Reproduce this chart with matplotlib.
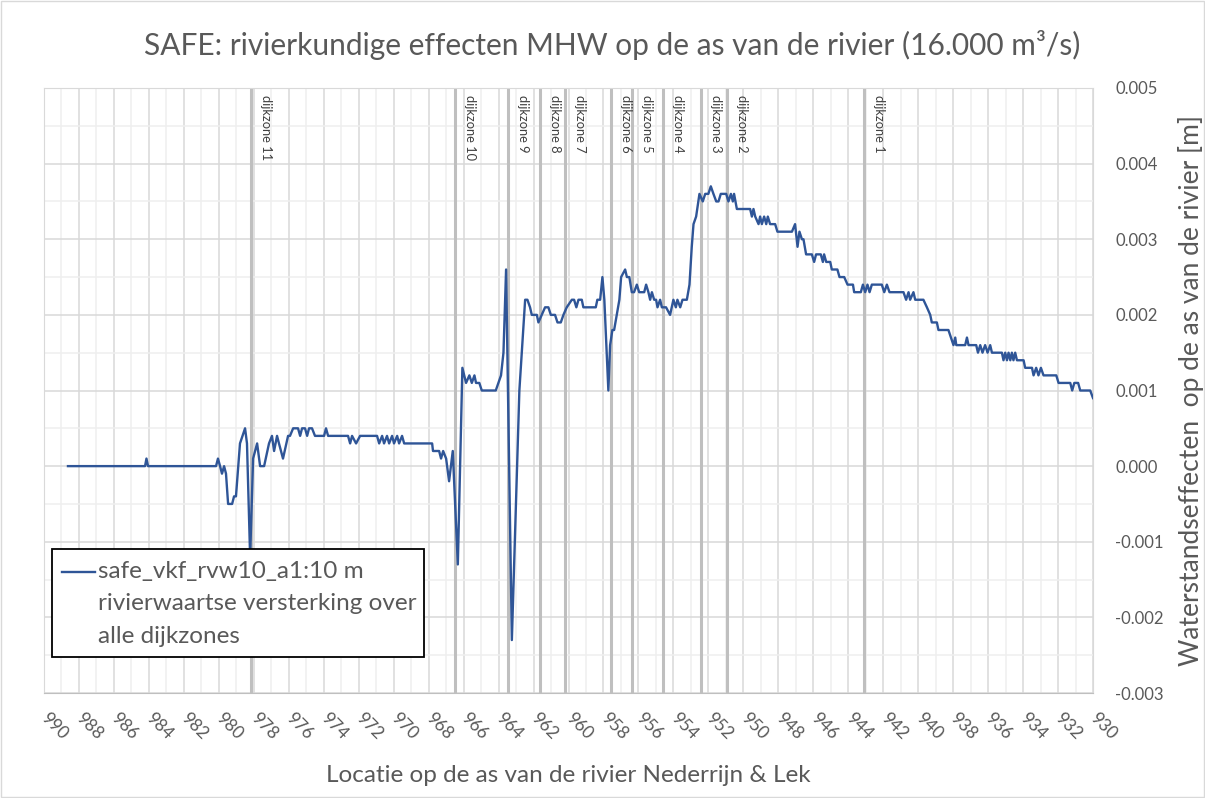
import matplotlib
matplotlib.use("Agg")
import matplotlib.pyplot as plt
from matplotlib.ticker import MultipleLocator, FormatStrFormatter
from matplotlib.patches import Rectangle

plt.rcParams['font.family'] = ['Lato', 'DejaVu Sans']

# rivierkilometer (x) en waterstandseffect [m] (y)
km = [988.63, 984.22, 984.14, 984.05, 980.16, 980.05, 979.93, 979.82, 979.70, 979.59,
      979.47, 979.24, 979.13, 979.02, 978.79, 978.50, 978.39, 978.21, 978.04, 977.81,
      977.64, 977.41, 977.13, 976.96, 976.84, 976.67, 976.56, 976.33, 976.04, 975.93,
      975.75, 975.47, 975.35, 975.24, 975.07, 974.95, 974.84, 974.67, 974.50, 973.98,
      973.87, 973.75, 972.61, 972.49, 972.38, 972.15, 971.92, 970.95, 970.83, 970.66,
      970.55, 970.38, 970.26, 970.09, 969.98, 969.80, 969.69, 969.52, 969.40, 967.80,
      967.75, 967.40, 967.29, 967.17, 967.00, 966.83, 966.62, 966.33, 966.07, 965.86,
      965.67, 965.53, 965.38, 965.29, 965.10, 964.96, 964.16, 964.01, 963.86, 963.72,
      963.57, 963.24, 962.81, 962.48, 962.35, 962.20, 962.10, 961.81, 961.72, 961.53,
      961.34, 961.15, 961.01, 960.77, 960.63, 960.44, 960.29, 960.10, 959.81, 959.68,
      959.55, 959.43, 959.24, 959.15, 958.44, 958.35, 958.19, 958.06, 957.95, 957.72,
      957.62, 957.49, 957.39, 957.09, 956.99, 956.76, 956.66, 956.52, 956.38, 956.25,
      956.09, 955.96, 955.67, 955.56, 955.43, 955.33, 955.23, 955.10, 954.99, 954.91,
      954.76, 954.66, 954.42, 954.19, 954.00, 953.86, 953.77, 953.61, 953.48, 953.23,
      953.08, 952.95, 952.85, 952.70, 952.51, 952.32, 952.18, 952.00, 951.86, 951.71,
      951.55, 951.42, 951.29, 950.98, 950.85, 950.71, 950.60, 950.53, 950.37, 949.61,
      949.51, 949.42, 949.32, 949.13, 949.04, 948.94, 948.81, 948.69, 948.60, 948.47,
      948.18, 948.05, 947.22, 947.04, 946.90, 946.79, 946.65, 946.56, 946.41, 946.08,
      945.95, 945.84, 945.57, 945.45, 945.38, 945.26, 945.03, 944.94, 944.62, 944.50,
      944.23, 944.04, 943.73, 943.66, 943.28, 943.16, 943.03, 942.90, 942.78, 942.65,
      942.08, 941.94, 941.79, 941.64, 940.84, 940.69, 940.55, 940.46, 940.27, 940.17,
      939.98, 939.70, 939.50, 939.31, 939.22, 938.93, 938.84, 938.27, 937.98, 937.88,
      937.82, 937.31, 937.21, 937.12, 936.68, 936.58, 936.45, 936.32, 936.17, 936.03,
      935.88, 935.78, 935.21, 935.12, 935.02, 934.92, 934.83, 934.73, 934.64, 934.55,
      934.45, 934.35, 933.97, 933.88, 933.49, 933.40, 933.25, 933.12, 932.98, 932.83,
      932.10, 931.97, 931.76, 931.30, 931.19, 931.07, 930.85, 930.73, 930.16, 930.00]
effect = [0.0000, 0.0000, 0.0001, 0.0000, 0.0000, 0.0001, 0.0000, -0.0001, 0.0000, -0.0001,
          -0.0005, -0.0005, -0.0004, -0.0004, 0.0003, 0.0005, 0.0003, -0.0012, 0.0001, 0.0003,
          0.0000, 0.0000, 0.0003, 0.0004, 0.0002, 0.0004, 0.0003, 0.0001, 0.0004, 0.0004,
          0.0005, 0.0005, 0.0004, 0.0005, 0.0005, 0.0004, 0.0005, 0.0005, 0.0004, 0.0004,
          0.0005, 0.0004, 0.0004, 0.0003, 0.0004, 0.0003, 0.0004, 0.0004, 0.0003, 0.0004,
          0.0003, 0.0004, 0.0003, 0.0004, 0.0003, 0.0004, 0.0003, 0.0004, 0.0003, 0.0003,
          0.0002, 0.0002, 0.0001, 0.0002, 0.0001, -0.0002, 0.0002, -0.0013, 0.0013, 0.0011,
          0.0012, 0.0011, 0.0012, 0.0011, 0.0011, 0.0010, 0.0010, 0.0011, 0.0012, 0.0015,
          0.0026, -0.0023, 0.0010, 0.0022, 0.0022, 0.0021, 0.0020, 0.0020, 0.0019, 0.0020,
          0.0021, 0.0021, 0.0020, 0.0020, 0.0019, 0.0019, 0.0020, 0.0021, 0.0022, 0.0022,
          0.0021, 0.0022, 0.0022, 0.0021, 0.0021, 0.0022, 0.0022, 0.0025, 0.0022, 0.0010,
          0.0016, 0.0018, 0.0018, 0.0022, 0.0025, 0.0026, 0.0025, 0.0025, 0.0023, 0.0023,
          0.0024, 0.0023, 0.0023, 0.0024, 0.0023, 0.0022, 0.0023, 0.0022, 0.0022, 0.0021,
          0.0022, 0.0021, 0.0021, 0.0020, 0.0022, 0.0021, 0.0022, 0.0021, 0.0022, 0.0022,
          0.0024, 0.0029, 0.0032, 0.0033, 0.0036, 0.0035, 0.0036, 0.0036, 0.0037, 0.0036,
          0.0035, 0.0035, 0.0036, 0.0036, 0.0035, 0.0036, 0.0035, 0.0036, 0.0034, 0.0034,
          0.0033, 0.0034, 0.0033, 0.0032, 0.0033, 0.0032, 0.0033, 0.0032, 0.0033, 0.0032,
          0.0032, 0.0031, 0.0031, 0.0032, 0.0029, 0.0031, 0.0030, 0.0030, 0.0028, 0.0028,
          0.0027, 0.0028, 0.0028, 0.0027, 0.0028, 0.0027, 0.0027, 0.0026, 0.0026, 0.0025,
          0.0025, 0.0024, 0.0024, 0.0023, 0.0023, 0.0024, 0.0023, 0.0024, 0.0023, 0.0024,
          0.0024, 0.0023, 0.0024, 0.0023, 0.0023, 0.0022, 0.0023, 0.0022, 0.0023, 0.0022,
          0.0022, 0.0022, 0.0021, 0.0020, 0.0019, 0.0019, 0.0018, 0.0018, 0.0016, 0.0017,
          0.0016, 0.0016, 0.0017, 0.0016, 0.0016, 0.0015, 0.0016, 0.0015, 0.0016, 0.0015,
          0.0016, 0.0015, 0.0015, 0.0014, 0.0015, 0.0014, 0.0015, 0.0014, 0.0015, 0.0014,
          0.0015, 0.0014, 0.0014, 0.0013, 0.0013, 0.0012, 0.0013, 0.0012, 0.0013, 0.0012,
          0.0012, 0.0011, 0.0011, 0.0011, 0.0010, 0.0011, 0.0011, 0.0010, 0.0010, 0.0009]

# grenzen van de dijkzones
zone_names = ['dijkzone 11', 'dijkzone 10', 'dijkzone 9', 'dijkzone 8', 'dijkzone 7',
              'dijkzone 6', 'dijkzone 5', 'dijkzone 4', 'dijkzone 3', 'dijkzone 2', 'dijkzone 1']
zone_km = [978.18, 966.49, 963.47, 961.62, 960.18, 957.58, 956.34, 954.57, 952.41, 950.91, 943.07]

legend_label = 'safe_vkf_rvw10_a1:10 m\nrivierwaartse versterking over\nalle dijkzones'

grey_txt = '#595959'
line_col = '#2F5597'

fig = plt.figure(figsize=(12.05, 7.98), dpi=100)
ax = fig.add_axes([44/1205, 1 - 693/798, (1093 - 44)/1205, (693 - 88)/798])

# grid
ax.set_xlim(990, 930)
ax.set_ylim(-0.003, 0.005)
ax.xaxis.set_major_locator(MultipleLocator(2))
ax.xaxis.set_minor_locator(MultipleLocator(1))
ax.yaxis.set_major_locator(MultipleLocator(0.001))
ax.yaxis.set_minor_locator(MultipleLocator(0.0005))
ax.grid(which='major', color='#d9d9d9', linewidth=1.1)
ax.grid(which='minor', color='#efefef', linewidth=1.1)
ax.set_axisbelow(True)

# dijkzone grenzen
for name, z in zip(zone_names, zone_km):
    ax.axvline(z, color='#bfbfbf', linewidth=2.2, zorder=1.5)
    ax.annotate(name, xy=(z, 0.005), xytext=(15, -7), textcoords='offset pixels',
                rotation=-90, ha='center', va='top', fontsize=9.3, color='#404040')

ax.plot(km, effect, color=line_col, linewidth=1.7, zorder=3)

# assen
for s in ax.spines.values():
    s.set_color('#d9d9d9')
ax.spines['bottom'].set_color('#bfbfbf')
ax.yaxis.tick_right()
ax.yaxis.set_label_position('right')
ax.yaxis.set_major_formatter(FormatStrFormatter('%.3f'))
ax.tick_params(which='both', length=0, labelcolor=grey_txt, labelsize=12)
ax.tick_params(axis='x', labelsize=12.5)
ax.tick_params(axis='y', pad=16)
ax.tick_params(axis='x', pad=16)
for t in ax.get_xticklabels():
    t.set_rotation(-45)
    t.set_ha('left')
    t.set_va('center')
    t.set_rotation_mode('anchor')

ax.set_xlabel('Locatie op de as van de rivier Nederrijn & Lek', fontsize=17.5, color=grey_txt, labelpad=16)
ax.set_ylabel('Waterstandseffecten  op de as van de rivier [m]', fontsize=19, color=grey_txt, labelpad=10)
fig.text(0.508, 0.944, 'SAFE: rivierkundige effecten MHW op de as van de rivier (16.000 m³/s)',
         ha='center', va='center', fontsize=21.5, color=grey_txt)

# legenda (handmatig, lijn naast de eerste regel)
ax.add_patch(Rectangle((0.0076, 0.0595), 0.3547, 0.1785, transform=ax.transAxes,
                       facecolor='white', edgecolor='black', linewidth=1.3, zorder=5))
ax.plot([0.0172, 0.0486], [0.2, 0.2], transform=ax.transAxes, color=line_col,
        linewidth=1.7, zorder=6)
ax.text(0.0515, 0.219, legend_label, transform=ax.transAxes, ha='left', va='top',
        fontsize=17.5, color=grey_txt, linespacing=1.7, zorder=6)

fig.patches.append(Rectangle((0.001, 0.001), 0.998, 0.998, transform=fig.transFigure,
                             fill=False, edgecolor='#d9d9d9', linewidth=1))

fig.savefig('out.png', dpi=100)
